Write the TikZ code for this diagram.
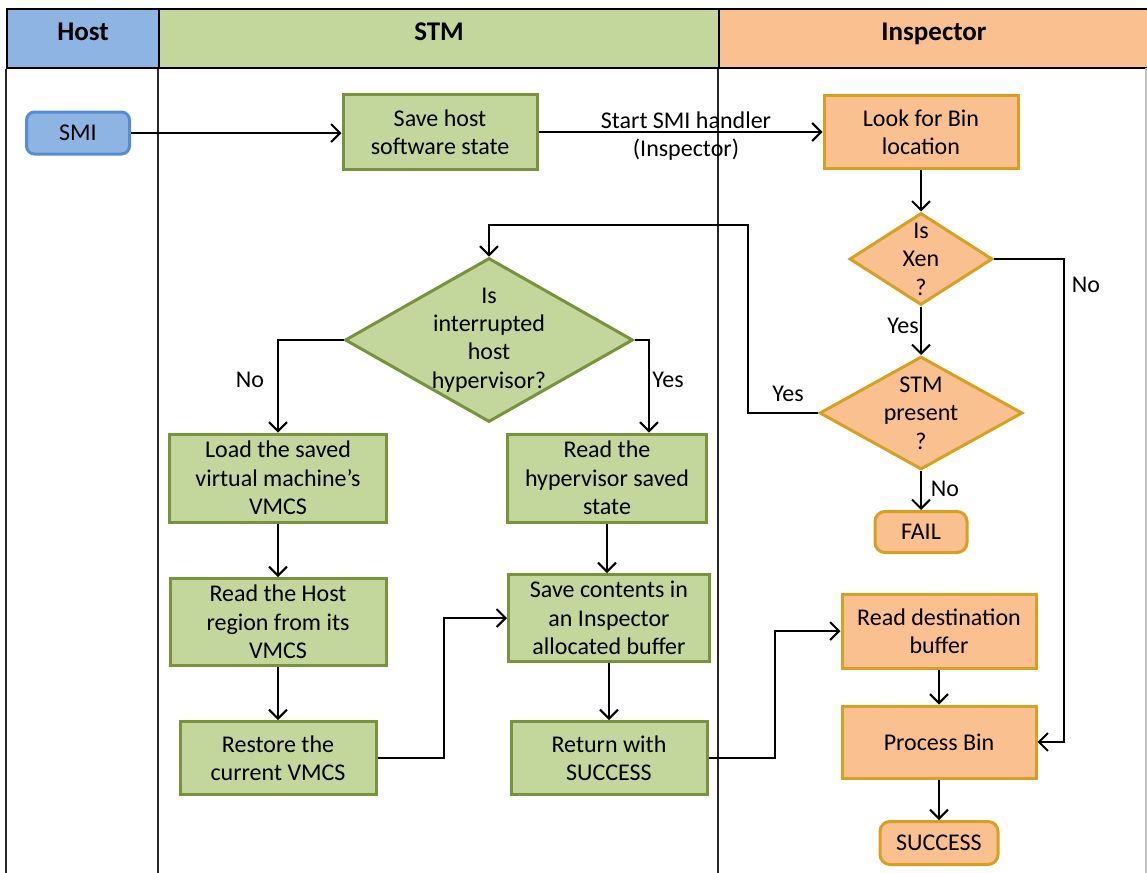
\documentclass[tikz,border=0pt]{standalone}
\usepackage{fontspec}
\setmainfont{Carlito}
\usetikzlibrary{arrows.meta,shapes.geometric}
\definecolor{hostblue}{RGB}{142,180,227}
\definecolor{hostedge}{RGB}{84,141,212}
\definecolor{stmgreen}{RGB}{195,214,155}
\definecolor{stmedge}{RGB}{119,147,60}
\definecolor{insporange}{RGB}{250,192,144}
\definecolor{inspedge}{RGB}{214,160,32}

\begin{document}
\begin{tikzpicture}[x=0.5pt, y=-0.5pt,
                    font=\fontsize{12}{14.2}\selectfont,
                    >={Straight Barb[length=4.5pt,width=9pt]},
                    lanehead/.style = {
                        rectangle, draw=black, line width=1pt,
                        inner sep=0pt, minimum height=29.5pt,
                        text height=9.5pt, text depth=8pt,
                        font=\fontsize{13.5}{16}\selectfont\bfseries
                      },
                    lane/.style = {line width=0.8pt, draw=black!85},
                    boxsize/.style 2 args = {minimum width=#1, minimum height=#2},
                    hoststep/.style = {
                        rectangle, rounded corners=4pt, align=center,
                        inner sep=0pt, line width=1.5pt,
                        draw=hostedge, fill=hostblue
                      },
                    stmstep/.style = {
                        rectangle, align=center, inner sep=0pt,
                        line width=1.5pt, draw=stmedge, fill=stmgreen
                      },
                    inspstep/.style = {
                        rectangle, align=center, inner sep=0pt,
                        line width=1.5pt, draw=inspedge, fill=insporange
                      },
                    terminal/.style = {inspstep, rounded corners=5pt},
                    stmdecide/.style = {
                        diamond, inner sep=0pt, line width=1.5pt,
                        draw=stmedge, fill=stmgreen
                      },
                    inspdecide/.style = {
                        diamond, inner sep=0pt, line width=1.5pt,
                        draw=inspedge, fill=insporange
                      },
                    flow/.style = {->, line width=1pt},
                    lbl/.style = {inner sep=0pt, align=center}]
    \useasboundingbox (0,0) rectangle (1147,873);

    % swim lanes
    \node(hosthead)[lanehead, fill=hostblue, minimum width=76pt] at (83,38.5) {Host};
    \node(stmhead)[lanehead, fill=stmgreen, minimum width=280pt] at (439,38.5) {STM};
    \node(insphead)[lanehead, fill=insporange, minimum width=215pt] at (934,38.5) {Inspector};
    \draw[lane] (hosthead.south west) -- ++(0,805);
    \draw[lane] (stmhead.south west) -- ++(0,805);
    \draw[lane] (insphead.south west) -- ++(0,805);
    \draw[lane, draw=black!25] (1146,68) -- ++(0,805);

    \node(smi)[hoststep, boxsize={51.5pt}{21pt}] at (78,133) {SMI};
    \node(savehost)[stmstep, boxsize={97pt}{37.5pt}] at (440,132) {Save host\\software state};
    \node(lookbin)[inspstep, boxsize={97pt}{36.5pt}] at (921,132) {Look for Bin\\location};
    \node(isxen)[inspdecide, boxsize={71.5pt}{46pt},
                 label={[lbl]center:{Is\\Xen\\?}}] at (921,259) {};
    \node(stmpres)[inspdecide, boxsize={101.5pt}{56.5pt},
                   label={[lbl]center:{STM\\present\\?}}] at (921,413) {};
    \node(fail)[terminal, boxsize={46pt}{20.5pt}] at (921,532) {FAIL};

    \node(hyper)[stmdecide, boxsize={144pt}{82pt},
                 label={[lbl]center:{Is\\interrupted\\host\\hypervisor?}}] at (489,340) {};
    \node(loadvm)[stmstep, boxsize={108.5pt}{44pt}] at (278,478) {Load the saved\\virtual machine’s\\VMCS};
    \node(readhv)[stmstep, boxsize={99.5pt}{44pt}] at (607,478) {Read the\\hypervisor saved\\state};
    \node(readhost)[stmstep, boxsize={108pt}{43.5pt}] at (278,622) {Read the Host\\region from its\\VMCS};
    \node(savecont)[stmstep, boxsize={100.5pt}{43.5pt}] at (609,618) {Save contents in\\an Inspector\\allocated buffer};
    \node(restore)[stmstep, boxsize={98pt}{36.5pt}] at (278,758) {Restore the\\current VMCS};
    \node(retsucc)[stmstep, boxsize={98pt}{36.5pt}] at (609,758) {Return with\\SUCCESS};

    \node(readdest)[inspstep, boxsize={97pt}{37pt}] at (939,631) {Read destination\\buffer};
    \node(procbin)[inspstep, boxsize={97pt}{36pt}] at (939,742) {Process Bin};
    \node(success)[terminal, boxsize={59pt}{21.5pt}] at (939,843) {SUCCESS};

    \node(startlbl)[lbl] at (686,136) {Start SMI handler\\(Inspector)};
    \node(xenyes)[lbl] at (903,326) {Yes};
    \node(xenno)[lbl] at (1086,285) {No};
    \node(stmyes)[lbl] at (788,394) {Yes};
    \node(stmno)[lbl] at (945,489) {No};
    \node(hyperno)[lbl] at (250,380) {No};
    \node(hyperyes)[lbl] at (668,380) {Yes};

    \draw[flow] (smi) -- (smi -| savehost.west);
    \draw[flow] (savehost) -- (lookbin);
    \draw[flow] (lookbin) -- (isxen);
    \draw[flow] (isxen) -- (stmpres);
    \draw[flow] (isxen.east) -- ++(70,0) |- (procbin.east);
    \draw[flow] (stmpres) -- (fail);
    \draw[flow] (stmpres.west) -- ++(-70,0) -- ++(0,-188) -| (hyper.north);
    \draw[flow] (hyper.west) -| (loadvm.north);
    \draw[flow] (hyper.east) -| ([xshift=21pt]readhv.north);
    \draw[flow] (loadvm) -- (readhost);
    \draw[flow] (readhost) -- (restore);
    \draw[flow] (readhv) -- (readhv |- savecont.north);
    \draw[flow] (savecont) -- (retsucc);
    \draw[flow] (restore.east) -- ++(66,0) |- (savecont.west);
    \draw[flow] (retsucc.east) -- ++(66,0) |- (readdest.west);
    \draw[flow] (readdest) -- (procbin);
    \draw[flow] (procbin) -- (success);
  \end{tikzpicture}
\end{document}
